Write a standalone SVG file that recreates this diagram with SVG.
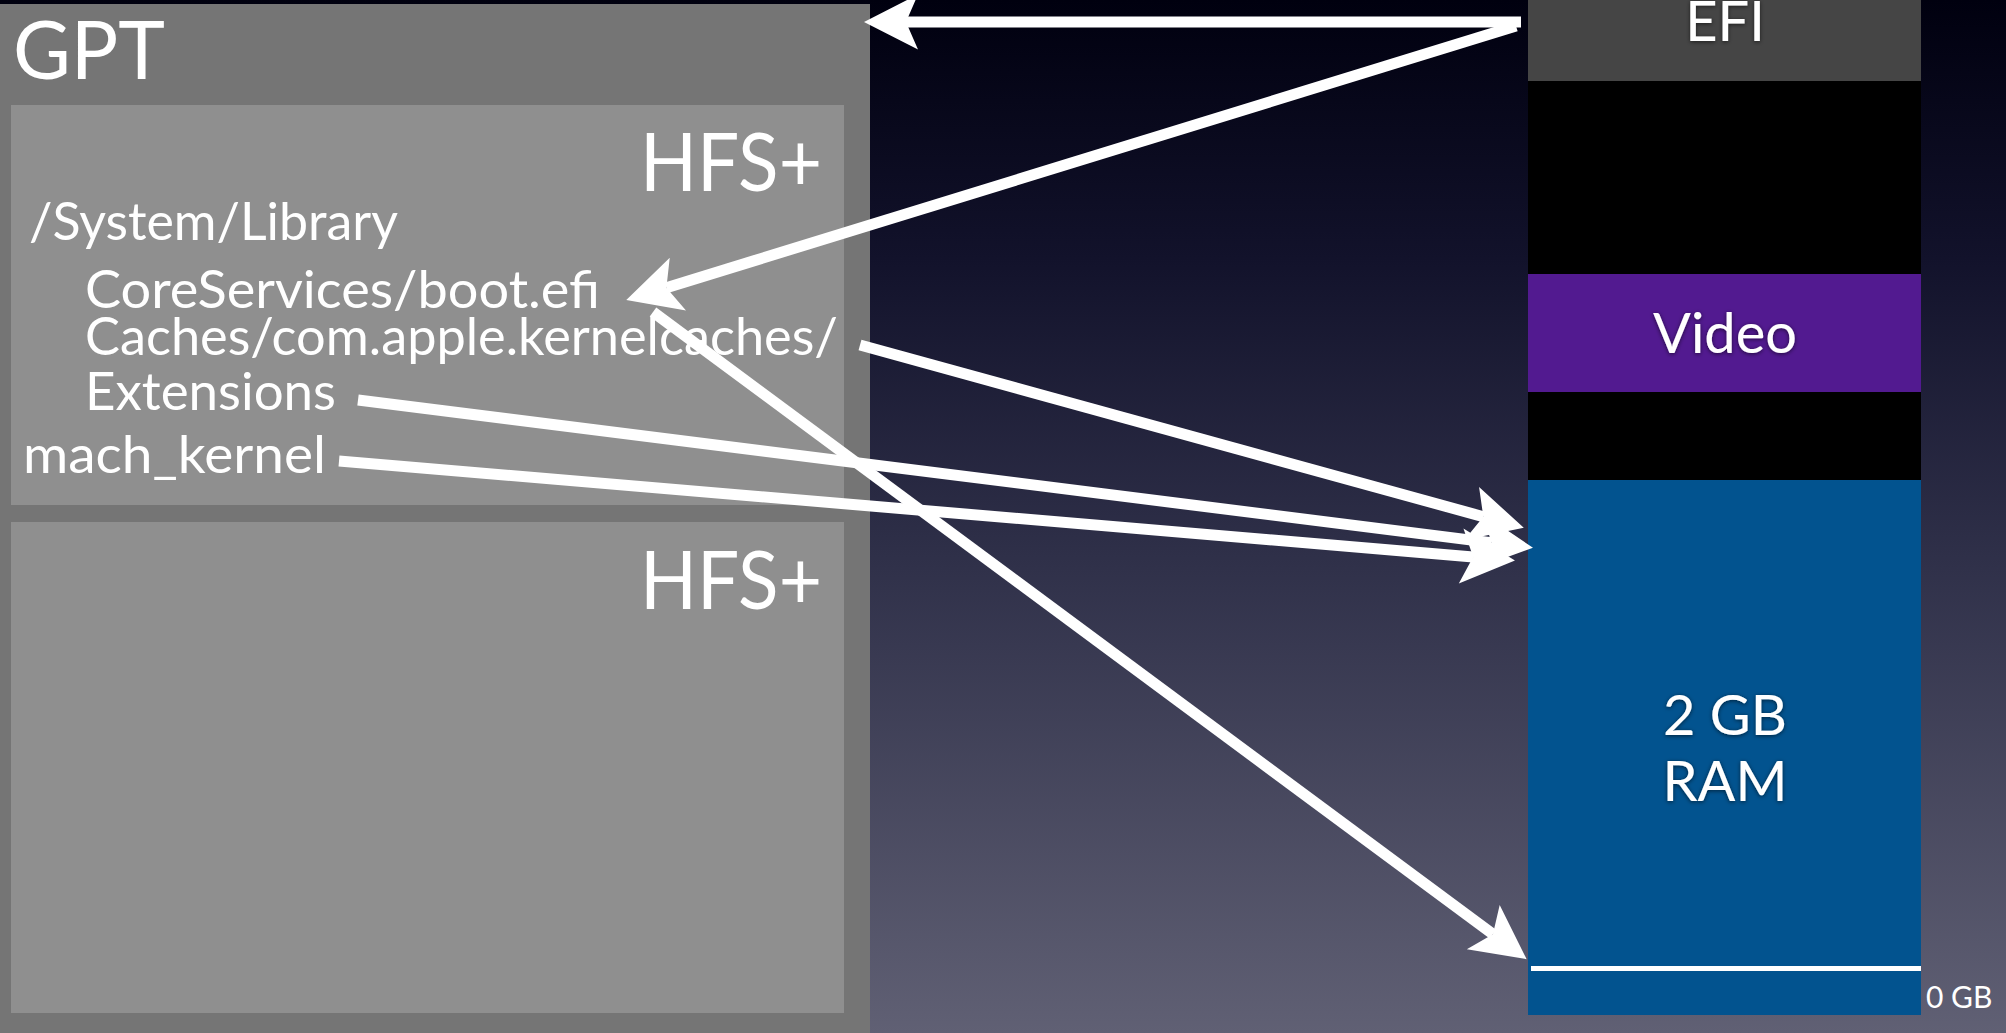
<svg xmlns="http://www.w3.org/2000/svg" width="2006" height="1033" viewBox="0 0 2006 1033">
  <defs>
    <linearGradient id="bg" x1="0" y1="0" x2="0" y2="1">
      <stop offset="0" stop-color="#00000f"/>
      <stop offset="0.25" stop-color="#12122b"/>
      <stop offset="0.55" stop-color="#30314a"/>
      <stop offset="1" stop-color="#606074"/>
    </linearGradient>
    <filter id="shadow" x="-20%" y="-20%" width="140%" height="140%">
      <feDropShadow dx="0" dy="1" stdDeviation="2" flood-color="#000" flood-opacity="0.6"/>
    </filter>
    <marker id="ah" markerUnits="userSpaceOnUse" markerWidth="60" markerHeight="60" viewBox="-12 -25 50 50" refX="0" refY="0" orient="auto" overflow="visible">
      <path d="M35,0 L-10,-23 L0,0 L-10,23 Z" fill="#ffffff"/>
    </marker>
  </defs>
  <style>
    .t { font-family: "Lato", "Liberation Sans", sans-serif; fill: #ffffff; }
    .big { font-size: 82px; }
    .path { font-size: 52px; }
    .mem { font-size: 56px; text-anchor: middle; filter: url(#shadow); }
    .conn { stroke: #ffffff; stroke-width: 11; fill: none; marker-end: url(#ah); }
  </style>

  <rect x="0" y="0" width="2006" height="1033" fill="url(#bg)"/>

  <g id="gpt">
    <rect x="0" y="4" width="870" height="1029" fill="#757575"/>
    <text class="t big" x="13" y="79" textLength="152" lengthAdjust="spacingAndGlyphs">GPT</text>
  </g>

  <g id="hfs1">
    <rect x="11" y="105" width="833" height="400" fill="#8f8f8f"/>
    <text class="t big" x="640" y="191" textLength="182" lengthAdjust="spacingAndGlyphs">HFS+</text>
    <text class="t path" x="29" y="240" textLength="369" lengthAdjust="spacingAndGlyphs">/System/Library</text>
    <text class="t path" x="85" y="308" textLength="515" lengthAdjust="spacingAndGlyphs">CoreServices/boot.efi</text>
    <text class="t path" x="85" y="355" textLength="753" lengthAdjust="spacingAndGlyphs">Caches/com.apple.kernelcaches/</text>
    <text class="t path" x="85" y="410" textLength="251" lengthAdjust="spacingAndGlyphs">Extensions</text>
    <text class="t path" x="23" y="473" textLength="303" lengthAdjust="spacingAndGlyphs">mach_kernel</text>
  </g>

  <g id="hfs2">
    <rect x="11" y="522" width="833" height="491" fill="#8f8f8f"/>
    <text class="t big" x="640" y="609" textLength="182" lengthAdjust="spacingAndGlyphs">HFS+</text>
  </g>

  <g id="memory">
    <g id="efi">
      <rect x="1528" y="0" width="393" height="81" fill="#454545"/>
      <text class="t mem" x="1725" y="41">EFI</text>
    </g>
    <rect x="1528" y="81" width="393" height="193" fill="#000000"/>
    <g id="video">
      <rect x="1528" y="274" width="393" height="118" fill="#521a90"/>
      <text class="t mem" x="1725" y="353">Video</text>
    </g>
    <rect x="1528" y="392" width="393" height="88" fill="#000000"/>
    <g id="ram">
      <rect x="1528" y="480" width="393" height="535" fill="#02538f"/>
      <text class="t mem" x="1725" y="735">2 GB</text>
      <text class="t mem" x="1725" y="801">RAM</text>
      <rect x="1531" y="966" width="390" height="5" fill="#ffffff"/>
    </g>
    <text class="t" x="1926" y="1008" font-size="30">0 GB</text>
  </g>

  <g id="connectors">
    <line class="conn" x1="1521" y1="22" x2="906" y2="22"/>
    <line class="conn" x1="1516" y1="26" x2="666.4" y2="287.7"/>
    <line class="conn" x1="653" y1="312" x2="1492.9" y2="934.2"/>
    <line class="conn" x1="860" y1="345" x2="1483.3" y2="516.7"/>
    <line class="conn" x1="358" y1="400" x2="1491.3" y2="542.6"/>
    <line class="conn" x1="339" y1="461" x2="1473.1" y2="557"/>
  </g>
</svg>
